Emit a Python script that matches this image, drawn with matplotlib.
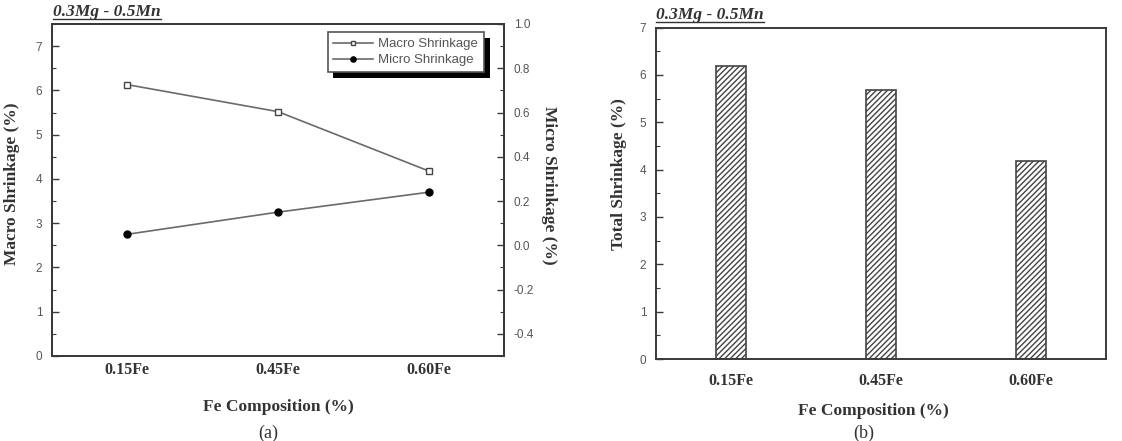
import numpy as np
import matplotlib

matplotlib.use("Agg")
import matplotlib.pyplot as plt
from matplotlib.lines import Line2D
from matplotlib import patheffects as pe
from matplotlib.ticker import MultipleLocator

# Data
categories = ["0.15Fe", "0.45Fe", "0.60Fe"]
macro_shrinkage = [6.13, 5.52, 4.18]      # left axis (%)
micro_shrinkage = [0.05, 0.15, 0.24]      # right axis (%)
total_shrinkage = [6.18, 5.67, 4.18]      # panel (b) (%)
title_text = "0.3Mg - 0.5Mn"

SERIF = "Liberation Serif"
SANS = "Liberation Sans"
C_AX = "#3a3a3a"
C_LN = "#6a6a6a"
C_TK = "#555555"
C_TX = "#333333"

plt.rcParams["hatch.color"] = "#666666"

W, H = 1122, 441
fig = plt.figure(figsize=(W / 100, H / 100), dpi=100)


def fx(px):
    return px / W


def fy(py):
    return 1 - py / H


def style_axis(ax):
    for s in ax.spines.values():
        s.set_color(C_AX)
        s.set_linewidth(1.4)
    ax.tick_params(axis="y", which="major", direction="in", length=5,
                   width=1.0, color=C_AX, labelsize=8.5, labelcolor=C_TK,
                   pad=7)
    ax.tick_params(axis="y", which="minor", direction="in", length=3,
                   width=0.8, color=C_AX)
    ax.tick_params(axis="x", length=0)
    for lab in ax.get_yticklabels():
        lab.set_fontfamily(SANS)


def title_underlined(x0, ybase, yline):
    t = fig.text(fx(x0), fy(ybase), title_text, family=SERIF, style="italic",
                 weight="bold", fontsize=12.5, color=C_TX,
                 ha="left", va="baseline")
    fig.canvas.draw()
    bb = t.get_window_extent()
    fig.add_artist(Line2D([bb.x0 / W, bb.x1 / W], [fy(yline), fy(yline)],
                          color=C_TX, lw=1.0))


# ---------------------------------------------------------------- panel (a)
x = np.arange(len(categories)) + 0.5
axA = fig.add_axes([fx(52), fy(356), fx(452), 332 / H])
axA.plot(x, macro_shrinkage, "-s", color=C_LN, lw=1.2, ms=4.5,
         mfc="white", mec="#444444", mew=1.0, label="Macro Shrinkage")
axA.set_xlim(0, 3)
axA.set_ylim(0, 7.5)
axA.yaxis.set_major_locator(MultipleLocator(1))
axA.yaxis.set_minor_locator(MultipleLocator(0.5))
axA.set_xticks(x)
axA.set_xticklabels(categories, family=SERIF, weight="bold", fontsize=11.5,
                    color=C_TX)
axA.tick_params(axis="x", pad=4)
style_axis(axA)

axA2 = axA.twinx()
axA2.plot(x, micro_shrinkage, "-o", color=C_LN, lw=1.2, ms=5,
          mfc="black", mec="black", label="Micro Shrinkage")
axA2.set_ylim(-0.5, 1.0)
axA2.yaxis.set_major_locator(MultipleLocator(0.2))
axA2.yaxis.set_minor_locator(MultipleLocator(0.1))
axA2.yaxis.set_major_formatter(lambda v, p: f"{v:.1f}")
style_axis(axA2)
for lab in axA2.get_yticklabels():
    lab.set_fontfamily(SANS)

h1, l1 = axA.get_legend_handles_labels()
h2, l2 = axA2.get_legend_handles_labels()
leg = axA2.legend(h1 + h2, l1 + l2, loc="upper right",
                  bbox_to_anchor=(0.956, 0.976), borderaxespad=0,
                  fancybox=False, framealpha=1, edgecolor="#555555",
                  handlelength=3.0, handletextpad=0.4, borderpad=0.45,
                  labelspacing=0.3, markerscale=0.75,
                  prop={"family": SANS, "size": 9.5})
for t in leg.get_texts():
    t.set_color("#555555")
leg.get_frame().set_linewidth(1.2)
leg.get_frame().set_path_effects([
    pe.SimplePatchShadow(offset=(4, -4), shadow_rgbFace="black", alpha=1),
    pe.Normal()])

fig.text(fx(12), fy(184), "Macro Shrinkage (%)", rotation=90, family=SERIF,
         weight="bold", fontsize=12.5, color=C_TX, ha="center", va="center")
fig.text(fx(549), fy(185), "Micro Shrinkage (%)", rotation=-90, family=SERIF,
         weight="bold", fontsize=12.5, color=C_TX, ha="center", va="center")
fig.text(fx(278), fy(407), "Fe Composition (%)", family=SERIF, weight="bold",
         fontsize=12.5, color=C_TX, ha="center", va="center")
fig.text(fx(268), fy(433), "(a)", family=SERIF, fontsize=13,
         color=C_TX, ha="center", va="center")
title_underlined(53, 16, 19)

# ---------------------------------------------------------------- panel (b)
axB = fig.add_axes([fx(656), fy(359), fx(450), 331.5 / H])
bars = axB.bar(x, total_shrinkage, 0.2, color="white", edgecolor="#444444",
               linewidth=1.2, hatch="//////")
axB.set_xlim(0, 3)
axB.set_ylim(0, 7)
axB.yaxis.set_major_locator(MultipleLocator(1))
axB.yaxis.set_minor_locator(MultipleLocator(0.5))
axB.set_xticks(x)
axB.set_xticklabels(categories, family=SERIF, weight="bold", fontsize=11.5,
                    color=C_TX)
axB.tick_params(axis="x", pad=10)
style_axis(axB)

fig.text(fx(619), fy(174), "Total Shrinkage (%)", rotation=90, family=SERIF,
         weight="bold", fontsize=12.5, color=C_TX, ha="center", va="center")
fig.text(fx(873), fy(411), "Fe Composition (%)", family=SERIF, weight="bold",
         fontsize=12.5, color=C_TX, ha="center", va="center")
fig.text(fx(864), fy(433), "(b)", family=SERIF, fontsize=13,
         color=C_TX, ha="center", va="center")
title_underlined(656, 19, 22)

fig.savefig("out.png", dpi=100)
